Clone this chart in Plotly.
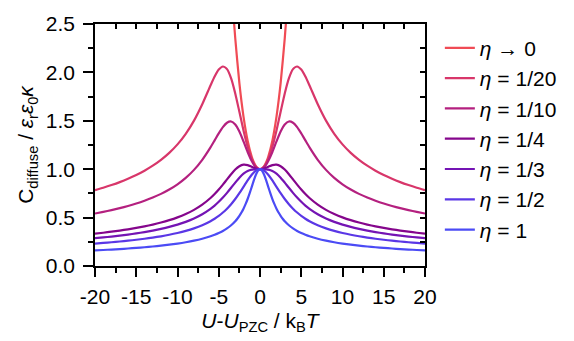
import plotly.graph_objects as go

# ---- data (x = U-U_PZC / kBT, y = C_diffuse / eps_r eps_0 kappa) ----
x_tickvals = [-20, -15, -10, -5, 0, 5, 10, 15, 20]
x_ticktext = ["-20", "-15", "-10", "-5", "0", "5", "10", "15", "20"]
y_tickvals = [0.0, 0.5, 1.0, 1.5, 2.0, 2.5]
y_ticktext = ["0.0", "0.5", "1.0", "1.5", "2.0", "2.5"]

x_gc = [-3.5, -3.25, -3, -2.5, -2, -1.5, -1, -0.75, -0.5, -0.25, 0,
        0.25, 0.5, 0.75, 1, 1.5, 2, 2.5, 3, 3.25, 3.5]
y_gc = [2.9642, 2.6377, 2.3524, 1.8884, 1.5431, 1.2947, 1.1276, 1.0711, 1.0314, 1.0078, 1.0,
        1.0078, 1.0314, 1.0711, 1.1276, 1.2947, 1.5431, 1.8884, 2.3524, 2.6377, 2.9642]

x_common = [-20, -19, -18, -17, -16, -15, -14, -13, -12, -11, -10, -9, -8, -7,
            -6, -5.5, -5, -4.5, -4, -3.5, -3, -2.5, -2, -1.5, -1, -0.75, -0.5, -0.25,
            0,
            0.25, 0.5, 0.75, 1, 1.5, 2, 2.5, 3, 3.5, 4, 4.5, 5, 5.5, 6,
            7, 8, 9, 10, 11, 12, 13, 14, 15, 16, 17, 18, 19, 20]

y_eta_1_20 = [0.7830, 0.8082, 0.8359, 0.8667, 0.9012, 0.9403, 0.9848, 1.0362, 1.0966, 1.1687,
              1.2564, 1.3652, 1.5016, 1.6711, 1.8651, 1.9573, 2.0292, 2.0611, 2.0338, 1.9381,
              1.7824, 1.5928, 1.4009, 1.2328, 1.1052, 1.0595, 1.0265, 1.0066,
              1.0,
              1.0066, 1.0265, 1.0595, 1.1052, 1.2328, 1.4009, 1.5928, 1.7824, 1.9381, 2.0338,
              2.0611, 2.0292, 1.9573, 1.8651, 1.6711, 1.5016, 1.3652, 1.2564, 1.1687, 1.0966,
              1.0362, 0.9848, 0.9403, 0.9012, 0.8667, 0.8359, 0.8082, 0.7830]

y_eta_1_10 = [0.5423, 0.5589, 0.5773, 0.5975, 0.6201, 0.6454, 0.6741, 0.7069, 0.7451, 0.7901,
              0.8442, 0.9104, 0.9930, 1.0972, 1.2261, 1.2979, 1.3699, 1.4345, 1.4801, 1.4928,
              1.4623, 1.3891, 1.2868, 1.1776, 1.0838, 1.0481, 1.0217, 1.0055,
              1.0,
              1.0055, 1.0217, 1.0481, 1.0838, 1.1776, 1.2868, 1.3891, 1.4623, 1.4928, 1.4801,
              1.4345, 1.3699, 1.2979, 1.2261, 1.0972, 0.9930, 0.9104, 0.8442, 0.7901, 0.7451,
              0.7069, 0.6741, 0.6454, 0.6201, 0.5975, 0.5773, 0.5589, 0.5423]

y_eta_1_4 = [0.3341, 0.3438, 0.3544, 0.3661, 0.3790, 0.3934, 0.4096, 0.4279, 0.4490, 0.4734,
             0.5024, 0.5372, 0.5799, 0.6337, 0.7024, 0.7437, 0.7900, 0.8408, 0.8948, 0.9486,
             0.9964, 1.0312, 1.0468, 1.0425, 1.0253, 1.0156, 1.0074, 1.0019,
             1.0,
             1.0019, 1.0074, 1.0156, 1.0253, 1.0425, 1.0468, 1.0312, 0.9964, 0.9486, 0.8948,
             0.8408, 0.7900, 0.7437, 0.7024, 0.6337, 0.5799, 0.5372, 0.5024, 0.4734, 0.4490,
             0.4279, 0.4096, 0.3934, 0.3790, 0.3661, 0.3544, 0.3438, 0.3341]

y_eta_1_3 = [0.2870, 0.2952, 0.3042, 0.3141, 0.3249, 0.3370, 0.3505, 0.3658, 0.3833, 0.4036,
             0.4274, 0.4559, 0.4908, 0.5345, 0.5905, 0.6244, 0.6630, 0.7067, 0.7554, 0.8079,
             0.8618, 0.9124, 0.9542, 0.9822, 0.9959, 0.9986, 0.9997, 1.0000,
             1.0,
             1.0000, 0.9997, 0.9986, 0.9959, 0.9822, 0.9542, 0.9124, 0.8618, 0.8079, 0.7554,
             0.7067, 0.6630, 0.6244, 0.5905, 0.5345, 0.4908, 0.4559, 0.4274, 0.4036, 0.3833,
             0.3658, 0.3505, 0.3370, 0.3249, 0.3141, 0.3042, 0.2952, 0.2870]

y_eta_1_2 = [0.2318, 0.2383, 0.2453, 0.2531, 0.2616, 0.2710, 0.2816, 0.2934, 0.3069, 0.3225,
             0.3407, 0.3623, 0.3886, 0.4212, 0.4630, 0.4885, 0.5180, 0.5523, 0.5922, 0.6386,
             0.6920, 0.7523, 0.8177, 0.8837, 0.9428, 0.9666, 0.9847, 0.9961,
             1.0,
             0.9961, 0.9847, 0.9666, 0.9428, 0.8837, 0.8177, 0.7523, 0.6920, 0.6386, 0.5922,
             0.5523, 0.5180, 0.4885, 0.4630, 0.4212, 0.3886, 0.3623, 0.3407, 0.3225, 0.3069,
             0.2934, 0.2816, 0.2710, 0.2616, 0.2531, 0.2453, 0.2383, 0.2318]

x_eta_1 = [-20, -19, -18, -17, -16, -15, -14, -13, -12, -11, -10, -9, -8, -7,
           -6, -5.5, -5, -4.5, -4, -3.5, -3, -2.75, -2.5, -2.25, -2, -1.75, -1.5, -1.25,
           -1, -0.75, -0.5, -0.25, 0, 0.25, 0.5, 0.75, 1, 1.25, 1.5, 1.75, 2, 2.25, 2.5,
           2.75, 3, 3.5, 4, 4.5, 5, 5.5, 6, 7, 8, 9, 10, 11, 12, 13, 14, 15, 16, 17, 18, 19, 20]
y_eta_1 = [0.1609, 0.1653, 0.1700, 0.1751, 0.1807, 0.1869, 0.1938, 0.2016, 0.2103, 0.2203,
           0.2318, 0.2453, 0.2616, 0.2816, 0.3069, 0.3225, 0.3407, 0.3623, 0.3886, 0.4212,
           0.4630, 0.4885, 0.5180, 0.5523, 0.5922, 0.6386, 0.6920, 0.7523, 0.8177, 0.8837,
           0.9428, 0.9847, 1.0, 0.9847, 0.9428, 0.8837, 0.8177, 0.7523, 0.6920, 0.6386,
           0.5922, 0.5523, 0.5180, 0.4885, 0.4630, 0.4212, 0.3886, 0.3623, 0.3407, 0.3225,
           0.3069, 0.2816, 0.2616, 0.2453, 0.2318, 0.2203, 0.2103, 0.2016, 0.1938, 0.1869,
           0.1807, 0.1751, 0.1700, 0.1653, 0.1609]

names = ["<i>η</i> → 0", "<i>η</i> = 1/20", "<i>η</i> = 1/10", "<i>η</i> = 1/4",
         "<i>η</i> = 1/3", "<i>η</i> = 1/2", "<i>η</i> = 1"]
colors = ["#F04B55", "#D8366A", "#B4207F", "#85068C", "#7414B4", "#5A37E6", "#4B4BF5"]

series = [(x_gc, y_gc), (x_common, y_eta_1_20), (x_common, y_eta_1_10),
          (x_common, y_eta_1_4), (x_common, y_eta_1_3), (x_common, y_eta_1_2),
          (x_eta_1, y_eta_1)]

FONT = "Liberation Sans, Arial, sans-serif"
FS = 21

fig = go.Figure()
for (xs, ys), nm, col in zip(series, names, colors):
    fig.add_trace(go.Scatter(x=xs, y=ys, mode="lines", name=nm,
                             line=dict(color=col, width=2.2, shape="spline", smoothing=0.6)))

# dummy trace to activate mirrored (top/right) axes
fig.add_trace(go.Scatter(x=[None], y=[None], xaxis="x2", yaxis="y2",
                         showlegend=False, hoverinfo="skip"))

axis_common = dict(showgrid=False, zeroline=False, showline=True, linecolor="black",
                   linewidth=1.6, tickcolor="black", tickwidth=1.5)

fig.update_layout(
    width=574, height=341,
    margin=dict(l=95, r=147, t=17, b=75),
    paper_bgcolor="white", plot_bgcolor="white",
    font=dict(family=FONT, size=FS, color="black"),
    xaxis=dict(range=[-20, 20], tickmode="array", tickvals=x_tickvals, ticktext=x_ticktext,
               ticks="outside", ticklen=9, ticklabelstandoff=2,
               minor=dict(dtick=2.5, tick0=-20, ticks="outside", ticklen=5,
                          tickcolor="black", tickwidth=1.5),
               title=dict(text="<i>U</i>-<i>U</i><sub>PZC</sub> / k<sub>B</sub><i>T</i>",
                          font=dict(size=FS), standoff=6),
               tickfont=dict(size=FS), **axis_common),
    yaxis=dict(range=[0, 2.5], tickmode="array", tickvals=y_tickvals, ticktext=y_ticktext,
               ticks="outside", ticklen=10, ticklabelstandoff=4,
               minor=dict(dtick=0.25, tick0=0, ticks="outside", ticklen=5,
                          tickcolor="black", tickwidth=1.5),
               title=dict(text="C<sub>diffuse</sub> / <i>ε</i><sub>r</sub><i>ε</i><sub>0</sub><i>κ</i>",
                          font=dict(size=FS), standoff=6),
               tickfont=dict(size=FS), **axis_common),
    xaxis2=dict(overlaying="x", side="top", range=[-20, 20], tickmode="array",
                tickvals=x_tickvals, ticks="inside", ticklen=5, showticklabels=False,
                minor=dict(dtick=2.5, tick0=-20, ticks="inside", ticklen=5,
                           tickcolor="black", tickwidth=1.5),
                **axis_common),
    yaxis2=dict(overlaying="y", side="right", range=[0, 2.5], tickmode="array",
                tickvals=y_tickvals, ticks="inside", ticklen=5, showticklabels=False,
                minor=dict(dtick=0.25, tick0=0, ticks="inside", ticklen=5,
                           tickcolor="black", tickwidth=1.5),
                **axis_common),
    legend=dict(x=1.045, y=0.985, xanchor="left", yanchor="top",
                bgcolor="rgba(0,0,0,0)", borderwidth=0,
                font=dict(family=FONT, size=FS), itemwidth=30, tracegroupgap=0),
    showlegend=True,
)

fig.write_html("out.html")
